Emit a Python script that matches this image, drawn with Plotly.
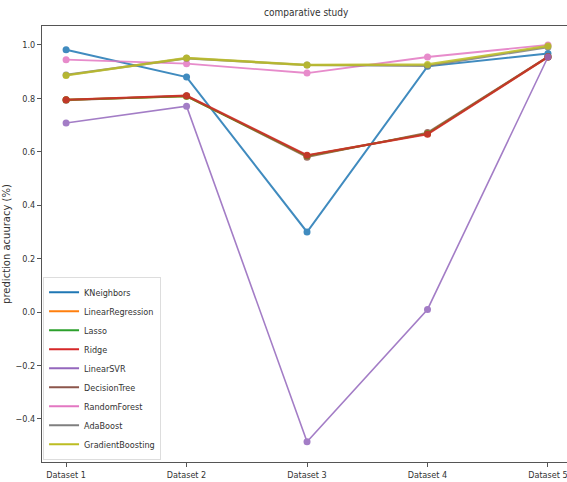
import plotly.graph_objects as go

datasets = ["Dataset 1", "Dataset 2", "Dataset 3", "Dataset 4", "Dataset 5"]
models = ["KNeighbors", "LinearRegression", "Lasso", "Ridge", "LinearSVR",
          "DecisionTree", "RandomForest", "AdaBoost", "GradientBoosting"]
colors = ["#1f77b4", "#ff7f0e", "#2ca02c", "#d62728", "#9467bd",
          "#8c564b", "#e377c2", "#7f7f7f", "#bcbd22"]

knn = [0.982, 0.880, 0.300, 0.920, 0.968]
linreg = [0.795, 0.808, 0.585, 0.668, 0.955]
lasso = [0.795, 0.808, 0.585, 0.668, 0.955]
ridge = [0.795, 0.810, 0.587, 0.666, 0.955]
linsvr = [0.708, 0.771, -0.485, 0.010, 0.955]
dtree = [0.793, 0.810, 0.580, 0.672, 0.957]
rforest = [0.945, 0.930, 0.895, 0.955, 1.000]
adaboost = [0.888, 0.950, 0.925, 0.922, 0.992]
gboost = [0.886, 0.951, 0.925, 0.927, 0.996]

series = [knn, linreg, lasso, ridge, linsvr, dtree, rforest, adaboost, gboost]
widths = [2, 2, 2, 2.2, 1.6, 1.8, 1.8, 2.2, 2.4]
draw_order = [0, 5, 1, 2, 3, 4, 6, 7, 8]

font_family = "DejaVu Sans Condensed, sans-serif"

fig = go.Figure()
for i in draw_order:
    name, vals, col, w = models[i], series[i], colors[i], widths[i]
    fig.add_trace(go.Scatter(
        x=list(range(len(datasets))), y=vals, mode="lines+markers",
        line=dict(color=col, width=w), marker=dict(color=col, size=7),
        name=name, showlegend=False, opacity=0.85,
    ))
for name, col in zip(models, colors):
    fig.add_trace(go.Scatter(
        x=[None], y=[None], mode="lines", line=dict(color=col, width=2),
        name=name, showlegend=True,
    ))

fig.update_layout(
    width=567, height=482,
    margin=dict(l=42, r=0, t=26, b=20),
    paper_bgcolor="white", plot_bgcolor="white",
    font=dict(family=font_family, size=9, color="#333"),
    title=dict(text="comparative study", x=0.54, xanchor="center", y=0.975,
               yanchor="middle", font=dict(size=10, family=font_family, color="#333")),
    showlegend=True,
    legend=dict(x=0.002, y=0.005, xanchor="left", yanchor="bottom",
                bgcolor="rgba(255,255,255,0.85)", bordercolor="#ddd", borderwidth=1,
                font=dict(size=9, family=font_family, color="#333"),
                tracegroupgap=0, itemwidth=30),
    xaxis=dict(tickmode="array", tickvals=list(range(len(datasets))), ticktext=datasets,
               range=[-0.2, 4.158], showgrid=False, zeroline=False,
               showline=True, linecolor="#555", linewidth=1, mirror=True,
               ticks="outside", ticklen=4, tickcolor="#555", ticklabeloverflow="allow"),
    yaxis=dict(range=[-0.561, 1.071], tickvals=[-0.4, -0.2, 0.0, 0.2, 0.4, 0.6, 0.8, 1.0],
               ticktext=["\u22120.4", "\u22120.2", "0.0", "0.2", "0.4", "0.6", "0.8", "1.0"],
               showgrid=False, zeroline=False, showline=True, linecolor="#555", linewidth=1,
               ticks="outside", ticklen=4, tickcolor="#555",
               title=dict(text="prediction acuuracy (%)", standoff=3,
                          font=dict(size=10, family="DejaVu Sans", color="#333"))),
)

fig.write_html("out.html", config={"displayModeBar": False},
               post_script="document.body.style.margin='0';document.body.style.overflow='hidden';")
